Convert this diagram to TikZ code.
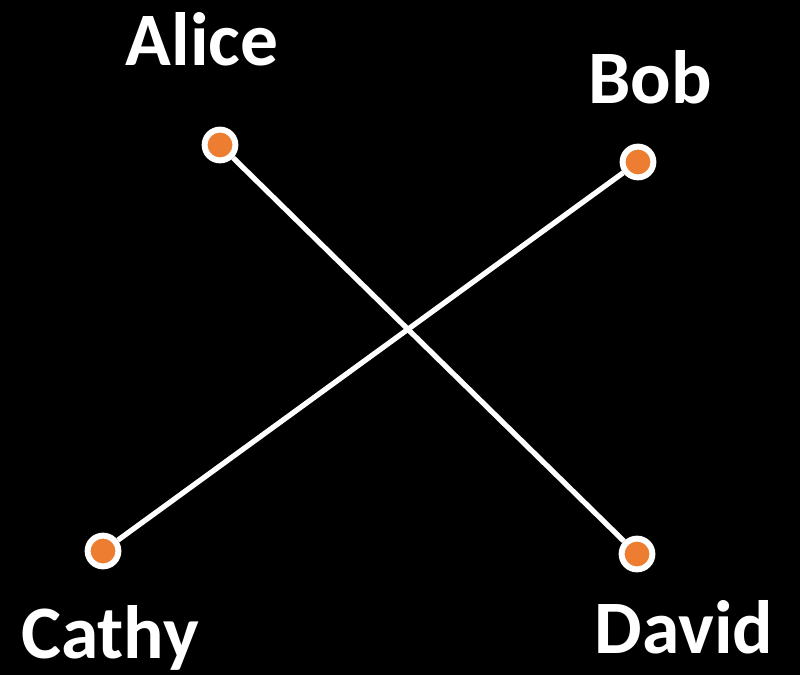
\documentclass[tikz,border=0pt]{standalone}
\usepackage{fontspec}
\setmainfont{Carlito}
\usetikzlibrary{positioning}
\definecolor{dotfill}{HTML}{ED7D31}

\begin{document}
\begin{tikzpicture}[x=0.02cm,y=-0.02cm,
  dot/.style={circle,draw=white,line width=3.4pt,fill=dotfill,inner sep=0pt,minimum size=17.5pt},
  person/.style={text=white,font=\fontsize{43}{47}\selectfont\bfseries,inner sep=0pt},
  link/.style={white,line width=3pt}]
  \fill[black] (0,0) rectangle (800,675);
  \useasboundingbox (0,0) rectangle (800,675);
  \node[dot] (alice) at (220,145) {};
  \node[dot] (bob) at (638,162) {};
  \node[dot] (cathy) at (103,551) {};
  \node[dot] (david) at (637,554) {};
  % names
  \node[person] (alicename) at (202,39) {Alice};
  \node[person] (bobname) at (650,77) {Bob};
  \node[person] (cathyname) at (110,638) {Cathy};
  \node[person] (davidname) at (684,627) {David};
  % crossing links
  \draw[link] (alice) -- (david);
  \draw[link] (bob) -- (cathy);
\end{tikzpicture}
\end{document}
